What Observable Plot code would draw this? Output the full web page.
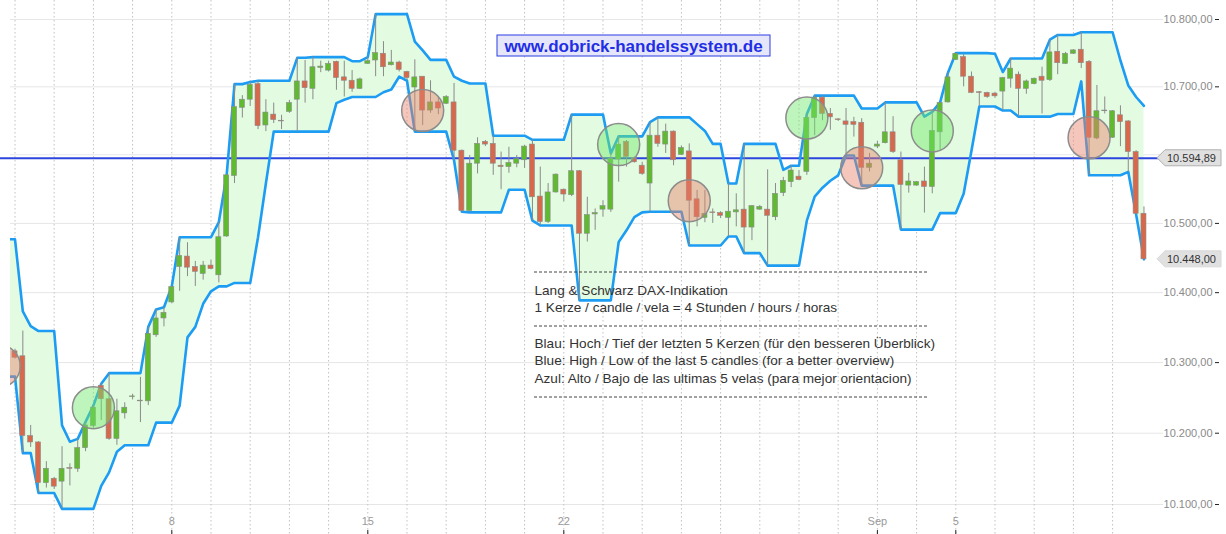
<!DOCTYPE html>
<html><head><meta charset="utf-8">
<script src="https://cdn.jsdelivr.net/npm/d3@7"></script>
<script src="https://cdn.jsdelivr.net/npm/@observablehq/plot@0.6"></script>
<style>html,body{margin:0;padding:0;background:#fff;} #chart{width:1226px;height:534px;overflow:hidden}</style>
</head><body><div id="chart"></div>
<script>
// 4-hour candles, index 0 = first candle of Aug 2 (5 candles per trading day); 5 earlier candles feed the band
const firstIndex = -5;
const opens = [10454,10461,10371,10332,10289,
10316,10309,10196,10187,10130,10136,10132,10151,10150,10179,
10210,10267,10248,10192,10228,10251,10245,10245,10339,10363,
10386,10437,10452,10437,10427,10439,10425,10481,10569,10669,
10681,10704,10643,10659,10650,10663,10681,10708,10697,10728,
10724,10737,10714,10709,10697,10734,10739,10749,10732,10736,
10722,10699,10715,10665,10677,10675,10677,10606,10518,10587,
10619,10616,10584,10582,10587,10592,10615,10539,10502,10545,
10549,10541,10576,10485,10513,10520,10520,10593,10619,10595,
10584,10558,10628,10615,10634,10600,10605,10535,10508,10516,
10515,10508,10516,10520,10494,10520,10520,10509,10544,10560,
10568,10575,10654,10684,10660,10652,10649,10648,10647,10581,
10612,10617,10633,10592,10555,10555,10561,10553,10633,10677,
10740,10744,10715,10692,10691,10690,10693,10712,10718,10697,
10704,10715,10710,10752,10734,10749,10755,10737,10624,10664,
10625,10658,10649,10604,10514];
const highs = [10461,10477,10373,10352,10345,
10319,10345,10211,10188,10160,10138,10181,10157,10192,10216,
10239,10270,10285,10248,10243,10255,10279,10351,10376,10379,
10409,10480,10472,10445,10445,10447,10502,10571,10704,10687,
10707,10709,10681,10676,10658,10680,10743,10739,10744,10738,
10738,10738,10738,10724,10713,10744,10808,10767,10754,10738,
10723,10740,10715,10709,10685,10687,10705,10607,10599,10625,
10621,10628,10604,10611,10599,10614,10622,10582,10558,10572,
10550,10659,10577,10538,10521,10533,10602,10627,10621,10597,
10589,10648,10655,10645,10635,10613,10616,10548,10548,10521,
10517,10558,10543,10616,10526,10526,10578,10558,10567,10584,
10577,10660,10687,10687,10668,10653,10668,10655,10653,10602,
10620,10677,10656,10604,10573,10561,10582,10663,10677,10721,
10750,10749,10722,10693,10692,10692,10714,10742,10722,10710,
10713,10729,10770,10777,10751,10755,10781,10739,10702,10685,
10665,10672,10650,10606,10524];
const lows = [10403,10372,10324,10289,10280,
10305,10172,10180,10116,10123,10121,10094,10126,10145,10174,
10207,10218,10190,10183,10220,10247,10215,10239,10336,10351,
10384,10402,10423,10409,10418,10433,10414,10480,10558,10654,
10671,10637,10634,10646,10637,10661,10634,10676,10681,10721,
10722,10695,10685,10692,10696,10733,10715,10715,10731,10722,
10709,10634,10643,10661,10659,10674,10592,10517,10516,10572,
10612,10570,10549,10573,10581,10580,10504,10497,10500,10544,
10531,10539,10389,10473,10490,10509,10516,10560,10582,10588,
10570,10517,10611,10602,10584,10599,10468,10495,10501,10500,
10507,10481,10495,10457,10475,10519,10439,10504,10539,10552,
10562,10570,10628,10650,10636,10649,10599,10626,10555,10575,
10609,10616,10602,10491,10544,10554,10515,10543,10606,10676,
10739,10700,10690,10671,10683,10683,10665,10698,10656,10689,
10703,10660,10708,10718,10733,10748,10727,10570,10622,10660,
10624,10612,10575,10513,10448];
const closes = [10410,10382,10332,10295,10314,
10307,10196,10187,10130,10150,10125,10150,10150,10179,10211,
10236,10248,10192,10231,10236,10252,10246,10341,10363,10371,
10408,10453,10436,10430,10439,10434,10480,10570,10670,10681,
10703,10642,10662,10651,10649,10676,10708,10698,10729,10730,
10734,10713,10709,10697,10711,10738,10750,10729,10736,10725,
10713,10714,10665,10677,10668,10685,10606,10518,10587,10616,
10615,10587,10582,10588,10594,10612,10538,10502,10545,10571,
10542,10576,10485,10512,10515,10525,10594,10615,10597,10589,
10572,10628,10616,10634,10592,10610,10533,10509,10514,10515,
10511,10517,10519,10494,10525,10524,10511,10543,10562,10577,
10563,10654,10684,10660,10655,10651,10644,10644,10581,10587,
10615,10633,10604,10556,10561,10560,10553,10635,10676,10714,
10749,10715,10691,10691,10685,10686,10713,10727,10697,10708,
10712,10709,10751,10735,10749,10754,10735,10625,10664,10665,
10664,10648,10604,10514,10448];

const buySignals = [10, 77, 101, 117];
const sellSignals = [-2, 52, 86, 108, 137];
const referenceLine = 10594.89;
const yTicks = [10100,10200,10300,10400,10500,10600,10700,10800];
const yTickLabels = [10100,10200,10300,10400,10500,10700,10800]; // 10.600 is covered by the price tag
const dayGrid = [0,5,10,15,20,25,30,35,40,45,50,55,60,65,70,75,80,85,90,95,100,105,110,115,120,125,130,135,140];
const dayTickIdx = [20,45,70,110,120];
const dayTickLabels = ["8","15","22","Sep","5"];
const infoLines = [
  "Lang & Schwarz DAX-Indikation",
  "1 Kerze / candle / vela = 4 Stunden / hours / horas",
  "Blau: Hoch / Tief der letzten 5 Kerzen (für den besseren Überblick)",
  "Blue: High / Low of the last 5 candles (for a better overview)",
  "Azul: Alto / Bajo de las ultimas 5 velas (para mejor orientacion)"
];
const siteTitle = "www.dobrick-handelssystem.de";

const candles = opens.map((o,k)=>({i:firstIndex+k, open:o, high:highs[k], low:lows[k], close:closes[k]}));
const band = [];
for (let k=4;k<candles.length;k++){
  const w = candles.slice(k-4,k+1);
  band.push({i:candles[k].i, upper:d3.max(w,d=>d.high), lower:d3.min(w,d=>d.low)});
}
const byIndex = new Map(candles.map(d=>[d.i,d]));
const signals = [
  ...sellSignals.map(i=>({i, y:byIndex.get(i).close, kind:"sell"})),
  ...buySignals.map(i=>({i, y:byIndex.get(i).close, kind:"buy"}))
];
const loc = d3.formatLocale({decimal:",", thousands:".", grouping:[3], currency:["",""]});
const fmt = loc.format(",.2f");
const FONT = "'Liberation Sans', Arial, sans-serif";
const lineDy = [290, 307.5, 343, 360.5, 378];

const chart = Plot.plot({
  width:1226, height:534, marginLeft:10, marginRight:66, marginTop:0, marginBottom:19,
  style:{fontFamily:FONT, background:"#fff", overflow:"visible"},
  x:{domain:[-0.574,146.11], axis:null},
  y:{type:"log", domain:[10084.7,10828.4], axis:null},
  marks:[
    Plot.ruleY(yTicks,{stroke:"#e6e6e6", insetRight:-3}),
    Plot.ruleX(dayGrid,{x:d=>d, stroke:"#c2c2c2", strokeDasharray:"1.5,2.5", insetBottom:-19}),
    Plot.areaY(band,{x:"i", y1:"lower", y2:"upper", fill:"#e3fbe1", clip:true}),
    Plot.ruleY([referenceLine],{stroke:"#2b45df", strokeWidth:2, insetLeft:-10}),
    Plot.lineY(band,{x:"i", y:"upper", stroke:"#1c9cf2", strokeWidth:2.6, clip:true}),
    Plot.lineY(band,{x:"i", y:"lower", stroke:"#1c9cf2", strokeWidth:2.6, clip:true}),
    Plot.ruleX(candles,{x:"i", y1:"low", y2:"high", stroke:"#8a8a8a", strokeWidth:1, clip:true}),
    Plot.rect(candles,{x1:d=>d.i-0.32, x2:d=>d.i+0.32, y1:"open", y2:"close",
      fill:d=>d.close>=d.open?"#5fba2f":"#d8684b", stroke:"#8a8a8a", strokeWidth:0.6, clip:true}),
    Plot.dot(signals,{x:"i", y:"y", r:21, fill:d=>d.kind==="buy"?"#6ee86a":"#e8806a",
      fillOpacity:0.45, stroke:"#8c8c8c", strokeWidth:1.5, clip:true}),
    Plot.text(yTickLabels,{y:d=>d, text:d=>fmt(d), frameAnchor:"right", dx:52, textAnchor:"end", fill:"#8a8a8a", fontSize:11}),
    Plot.ruleY(yTicks,{insetLeft:1205, insetRight:-59, stroke:"#222"}),
    Plot.text(dayTickIdx,{x:d=>d, text:(d,k)=>dayTickLabels[k], frameAnchor:"bottom", dy:9, fill:"#999", fontSize:11}),
    Plot.ruleX(dayTickIdx,{x:d=>d, insetTop:530, insetBottom:-19, stroke:"#222"}),
    ...infoLines.map((t,k)=>Plot.text([t],{frameAnchor:"top-left", lineAnchor:"middle", dx:524, dy:lineDy[k], textAnchor:"start", fontSize:13.6, fill:"#333"}))
  ]
});
document.getElementById("chart").appendChild(chart);

const svg = d3.select(chart);
const ys = chart.scale("y");
// dashed separator rules of the info block
[272, 326, 397].forEach(y=>{
  svg.append("line").attr("x1",534).attr("x2",927).attr("y1",y).attr("y2",y)
    .attr("stroke","#444").attr("stroke-dasharray","3,2").attr("stroke-width",1);
});
// title box
svg.append("rect").attr("x",497).attr("y",35).attr("width",273).attr("height",21)
  .attr("fill","#e6e6fa").attr("stroke","#2b3de0").attr("stroke-width",1);
svg.append("text").attr("x",633.5).attr("y",46).attr("text-anchor","middle").attr("dominant-baseline","central")
  .attr("font-family",FONT).attr("font-weight","bold").attr("font-size",17).attr("fill","#1f2fe6").text(siteTitle);
// price tags
function priceTag(value, stroke){
  const yc = ys.apply(value);
  svg.append("path").attr("d",`M1157,${yc} L1165,${yc-8} H1221 V${yc+8} H1165 Z`)
    .attr("fill","#e0e0e0").attr("stroke",stroke).attr("stroke-width",1);
  svg.append("text").attr("x",1167).attr("y",yc).attr("text-anchor","start").attr("dominant-baseline","central")
    .attr("font-family",FONT).attr("font-size",11).attr("fill","#333").text(fmt(value));
}
priceTag(referenceLine, "#b0b0b0");
priceTag(closes[closes.length-1], "#d8d8d8");
</script></body></html>
